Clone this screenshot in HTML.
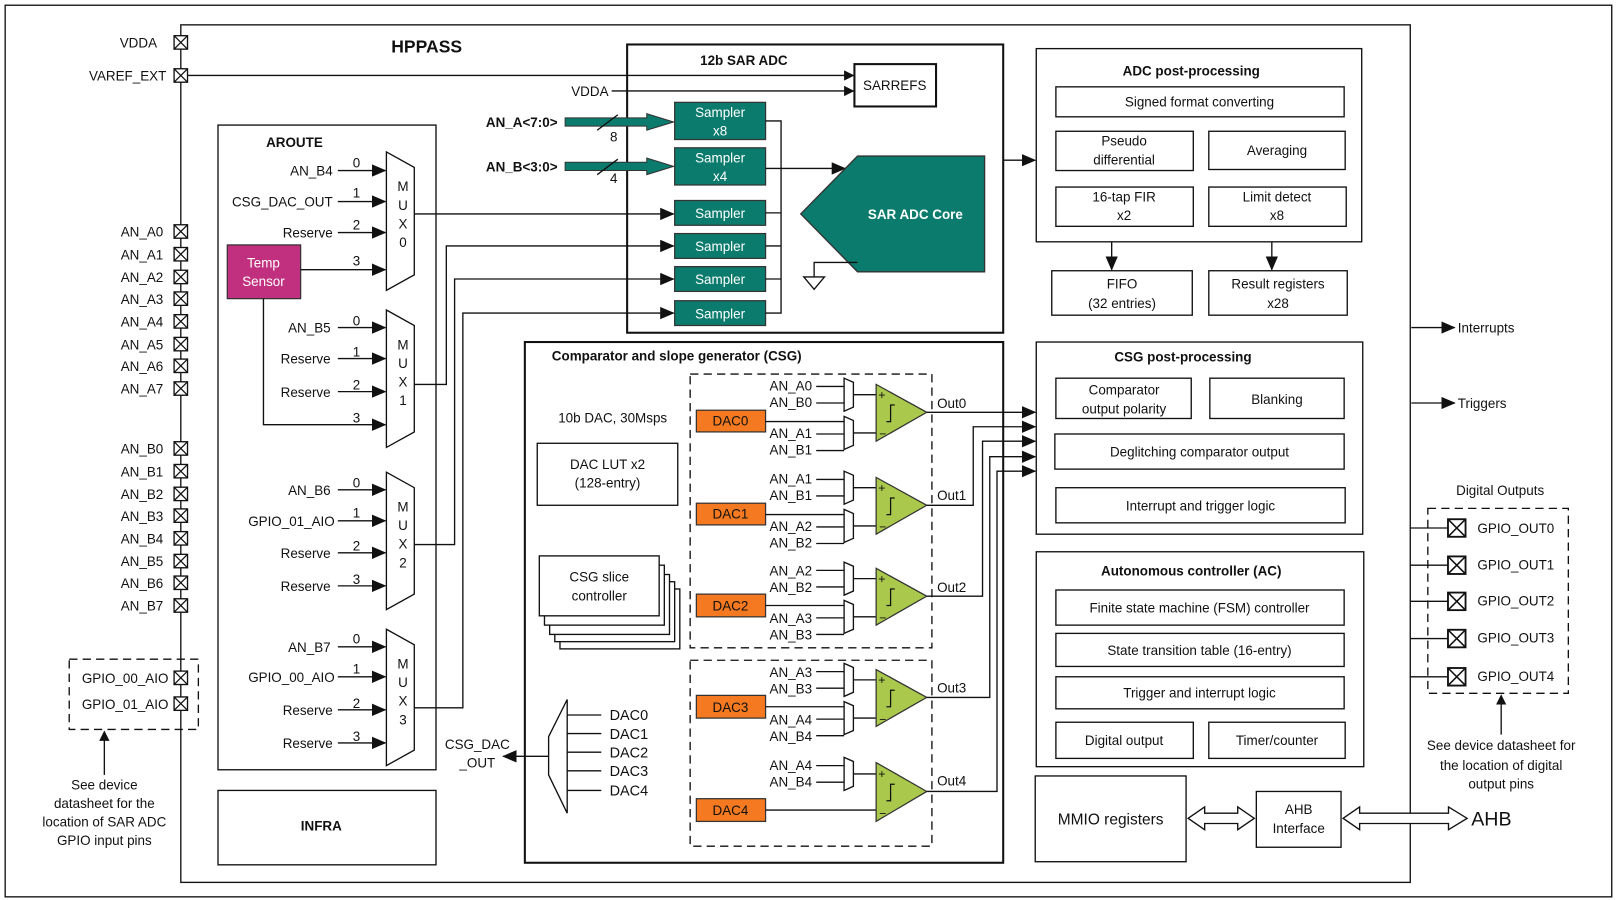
<!DOCTYPE html>
<html><head><meta charset="utf-8"><style>
html,body{margin:0;padding:0;background:#fff;}
svg{display:block}
text{font-family:"Liberation Sans",sans-serif;font-size:13px;fill:#111}
.b{font-weight:bold}
.w{fill:#fff}
.ln{stroke:#111;stroke-width:1.3;fill:none}
.bx{stroke:#111;stroke-width:1.3;fill:#fff}
.bx2{stroke:#111;stroke-width:2;fill:none}
.ds{stroke:#111;stroke-width:1.3;fill:none;stroke-dasharray:8,5}
.tl{fill:#0b7b6d;stroke:#333;stroke-width:1.2}
.or{fill:#f47920;stroke:#333;stroke-width:1.2}
.gr{fill:#a9c84c;stroke:#333;stroke-width:1.2}
</style></head><body>
<svg width="1620" height="900" viewBox="0 0 1568 871" xmlns="http://www.w3.org/2000/svg">
<defs>
<marker id="a" markerWidth="10" markerHeight="10" refX="9" refY="5" orient="auto" markerUnits="userSpaceOnUse"><path d="M0,0L10,5L0,10Z" fill="#111"/></marker>
<marker id="a2" markerWidth="14" markerHeight="12" refX="13" refY="6" orient="auto" markerUnits="userSpaceOnUse"><path d="M0,0L14,6L0,12Z" fill="#111"/></marker>
<g id="pin"><rect x="-6.5" y="-6.5" width="13" height="13" fill="#fff" stroke="#111" stroke-width="1.3"/><path d="M-6.5,-6.5L6.5,6.5M6.5,-6.5L-6.5,6.5" stroke="#111" stroke-width="1.2"/></g>
<g id="pinb"><rect x="-8.5" y="-8.5" width="17" height="17" fill="#fff" stroke="#111" stroke-width="1.8"/><path d="M-8.5,-8.5L8.5,8.5M8.5,-8.5L-8.5,8.5" stroke="#111" stroke-width="1.5"/></g>
<g id="stp"><path d="M-4,8L0,8L0,-8L4,-8" stroke="#111" stroke-width="1.2" fill="none"/></g>
</defs>
<rect x="5" y="5" width="1555" height="863" fill="none" stroke="#111" stroke-width="1.3"/>
<rect x="175" y="24" width="1190" height="830" class="bx"/>
<text x="413" y="51" class="b" text-anchor="middle" style="font-size:17px">HPPASS</text>

<!-- left pins -->
<text x="152" y="46" text-anchor="end">VDDA</text><use href="#pin" x="175" y="41"/>
<text x="161" y="78" text-anchor="end">VAREF_EXT</text>
<line x1="182" y1="73" x2="826" y2="73" class="ln" marker-end="url(#a)"/>
<use href="#pin" x="175" y="73"/>
<text x="158" y="229" text-anchor="end">AN_A0</text><use href="#pin" x="175" y="224"/>
<text x="158" y="251" text-anchor="end">AN_A1</text><use href="#pin" x="175" y="246"/>
<text x="158" y="273" text-anchor="end">AN_A2</text><use href="#pin" x="175" y="268"/>
<text x="158" y="294" text-anchor="end">AN_A3</text><use href="#pin" x="175" y="289"/>
<text x="158" y="316" text-anchor="end">AN_A4</text><use href="#pin" x="175" y="311"/>
<text x="158" y="338" text-anchor="end">AN_A5</text><use href="#pin" x="175" y="333"/>
<text x="158" y="359" text-anchor="end">AN_A6</text><use href="#pin" x="175" y="354"/>
<text x="158" y="381" text-anchor="end">AN_A7</text><use href="#pin" x="175" y="376"/>
<text x="158" y="439" text-anchor="end">AN_B0</text><use href="#pin" x="175" y="434"/>
<text x="158" y="461" text-anchor="end">AN_B1</text><use href="#pin" x="175" y="456"/>
<text x="158" y="483" text-anchor="end">AN_B2</text><use href="#pin" x="175" y="478"/>
<text x="158" y="504" text-anchor="end">AN_B3</text><use href="#pin" x="175" y="499"/>
<text x="158" y="526" text-anchor="end">AN_B4</text><use href="#pin" x="175" y="521"/>
<text x="158" y="548" text-anchor="end">AN_B5</text><use href="#pin" x="175" y="543"/>
<text x="158" y="569" text-anchor="end">AN_B6</text><use href="#pin" x="175" y="564"/>
<text x="158" y="591" text-anchor="end">AN_B7</text><use href="#pin" x="175" y="586"/>
<rect x="67" y="638" width="125" height="68" class="ds"/>
<text x="163" y="661" text-anchor="end">GPIO_00_AIO</text><use href="#pin" x="175" y="656"/>
<text x="163" y="686" text-anchor="end">GPIO_01_AIO</text><use href="#pin" x="175" y="681"/>
<line x1="101" y1="750" x2="101" y2="708" class="ln" marker-end="url(#a)"/>
<text x="101" y="764" text-anchor="middle">See device</text>
<text x="101" y="782" text-anchor="middle">datasheet for the</text>
<text x="101" y="800" text-anchor="middle">location of SAR ADC</text>
<text x="101" y="818" text-anchor="middle">GPIO input pins</text>

<!-- AROUTE -->
<rect x="211" y="121" width="211" height="624" class="bx"/>
<text x="285" y="142" class="b" text-anchor="middle">AROUTE</text>
<rect x="220" y="237" width="71" height="52" fill="#c1307f" stroke="#333" stroke-width="1.2"/>
<text x="255" y="259" class="w" text-anchor="middle">Temp</text>
<text x="255" y="277" class="w" text-anchor="middle">Sensor</text>
<!-- MUX0 -->
<path d="M374,147L401,162L401,266L374,281Z" class="bx"/>
<text x="390" y="185" text-anchor="middle">M</text><text x="390" y="203" text-anchor="middle">U</text><text x="390" y="221" text-anchor="middle">X</text><text x="390" y="239" text-anchor="middle">0</text>
<text x="322" y="170" text-anchor="end">AN_B4</text><line x1="327" y1="165" x2="373" y2="165" class="ln" marker-end="url(#a2)"/><text x="345" y="162" text-anchor="middle">0</text>
<text x="322" y="200" text-anchor="end">CSG_DAC_OUT</text><line x1="327" y1="195" x2="373" y2="195" class="ln" marker-end="url(#a2)"/><text x="345" y="191" text-anchor="middle">1</text>
<text x="322" y="230" text-anchor="end">Reserve</text><line x1="327" y1="225" x2="373" y2="225" class="ln" marker-end="url(#a2)"/><text x="345" y="222" text-anchor="middle">2</text>
<line x1="291" y1="261" x2="373" y2="261" class="ln" marker-end="url(#a2)"/><text x="345" y="257" text-anchor="middle">3</text>
<!-- MUX1 -->
<path d="M374,300L401,315L401,418L374,433Z" class="bx"/>
<text x="390" y="338" text-anchor="middle">M</text><text x="390" y="356" text-anchor="middle">U</text><text x="390" y="374" text-anchor="middle">X</text><text x="390" y="392" text-anchor="middle">1</text>
<text x="320" y="322" text-anchor="end">AN_B5</text><line x1="327" y1="317" x2="373" y2="317" class="ln" marker-end="url(#a2)"/><text x="345" y="315" text-anchor="middle">0</text>
<text x="320" y="352" text-anchor="end">Reserve</text><line x1="327" y1="347" x2="373" y2="347" class="ln" marker-end="url(#a2)"/><text x="345" y="345" text-anchor="middle">1</text>
<text x="320" y="384" text-anchor="end">Reserve</text><line x1="327" y1="379" x2="373" y2="379" class="ln" marker-end="url(#a2)"/><text x="345" y="377" text-anchor="middle">2</text>
<path d="M255,289L255,411L373,411" class="ln" marker-end="url(#a2)"/><text x="345" y="409" text-anchor="middle">3</text>
<!-- MUX2 -->
<path d="M374,457L401,472L401,575L374,590Z" class="bx"/>
<text x="390" y="495" text-anchor="middle">M</text><text x="390" y="513" text-anchor="middle">U</text><text x="390" y="531" text-anchor="middle">X</text><text x="390" y="549" text-anchor="middle">2</text>
<text x="320" y="479" text-anchor="end">AN_B6</text><line x1="327" y1="474" x2="373" y2="474" class="ln" marker-end="url(#a2)"/><text x="345" y="472" text-anchor="middle">0</text>
<text x="324" y="509" text-anchor="end">GPIO_01_AIO</text><line x1="327" y1="504" x2="373" y2="504" class="ln" marker-end="url(#a2)"/><text x="345" y="501" text-anchor="middle">1</text>
<text x="320" y="540" text-anchor="end">Reserve</text><line x1="327" y1="535" x2="373" y2="535" class="ln" marker-end="url(#a2)"/><text x="345" y="533" text-anchor="middle">2</text>
<text x="320" y="572" text-anchor="end">Reserve</text><line x1="327" y1="567" x2="373" y2="567" class="ln" marker-end="url(#a2)"/><text x="345" y="565" text-anchor="middle">3</text>
<!-- MUX3 -->
<path d="M374,609L401,624L401,726L374,741Z" class="bx"/>
<text x="390" y="647" text-anchor="middle">M</text><text x="390" y="665" text-anchor="middle">U</text><text x="390" y="683" text-anchor="middle">X</text><text x="390" y="701" text-anchor="middle">3</text>
<text x="320" y="631" text-anchor="end">AN_B7</text><line x1="327" y1="626" x2="373" y2="626" class="ln" marker-end="url(#a2)"/><text x="345" y="623" text-anchor="middle">0</text>
<text x="324" y="660" text-anchor="end">GPIO_00_AIO</text><line x1="327" y1="655" x2="373" y2="655" class="ln" marker-end="url(#a2)"/><text x="345" y="652" text-anchor="middle">1</text>
<text x="322" y="692" text-anchor="end">Reserve</text><line x1="327" y1="687" x2="373" y2="687" class="ln" marker-end="url(#a2)"/><text x="345" y="685" text-anchor="middle">2</text>
<text x="322" y="724" text-anchor="end">Reserve</text><line x1="327" y1="719" x2="373" y2="719" class="ln" marker-end="url(#a2)"/><text x="345" y="717" text-anchor="middle">3</text>

<rect x="211" y="765" width="211" height="72" class="bx"/>
<text x="311" y="804" class="b" text-anchor="middle">INFRA</text>

<!-- SAR ADC -->
<rect x="607" y="43" width="364" height="279" class="bx2"/>
<text x="720" y="63" class="b" text-anchor="middle">12b SAR ADC</text>
<rect x="827" y="62" width="79" height="41" class="bx2"/>
<text x="866" y="87" text-anchor="middle">SARREFS</text>
<text x="589" y="93" text-anchor="end">VDDA</text>
<line x1="592" y1="88" x2="826" y2="88" class="ln" marker-end="url(#a)"/>
<text x="505" y="123" class="b" text-anchor="middle">AN_A&lt;7:0&gt;</text>
<path d="M547,114L626,114L626,110L652,118L626,126L626,122L547,122Z" fill="#0b7b6d" stroke="#333" stroke-width="1"/>
<line x1="578" y1="126" x2="598" y2="111" class="ln"/><text x="594" y="137" text-anchor="middle">8</text>
<text x="505" y="166" class="b" text-anchor="middle">AN_B&lt;3:0&gt;</text>
<path d="M547,157L626,157L626,153L652,161L626,169L626,165L547,165Z" fill="#0b7b6d" stroke="#333" stroke-width="1"/>
<line x1="578" y1="169" x2="598" y2="154" class="ln"/><text x="594" y="177" text-anchor="middle">4</text>
<rect x="653" y="99" width="88" height="36" class="tl"/><text x="697" y="113" class="w" text-anchor="middle">Sampler</text><text x="697" y="131" class="w" text-anchor="middle">x8</text>
<rect x="653" y="143" width="88" height="36" class="tl"/><text x="697" y="157" class="w" text-anchor="middle">Sampler</text><text x="697" y="175" class="w" text-anchor="middle">x4</text>
<rect x="653" y="194" width="88" height="24" class="tl"/><text x="697" y="211" class="w" text-anchor="middle">Sampler</text>
<rect x="653" y="226" width="88" height="24" class="tl"/><text x="697" y="243" class="w" text-anchor="middle">Sampler</text>
<rect x="653" y="258" width="88" height="24" class="tl"/><text x="697" y="275" class="w" text-anchor="middle">Sampler</text>
<rect x="653" y="291" width="88" height="24" class="tl"/><text x="697" y="308" class="w" text-anchor="middle">Sampler</text>
<path d="M741,117L756,117L756,303L741,303M741,206L756,206M741,238L756,238M741,270L756,270" class="ln"/>
<line x1="741" y1="163" x2="818" y2="163" class="ln" marker-end="url(#a2)"/>
<path d="M775,207L830,151L953,151L953,263L830,263Z" fill="#0b7b6d" stroke="#333" stroke-width="1.3"/>
<text x="886" y="212" class="w b" text-anchor="middle">SAR ADC Core</text>
<path d="M830,254L788,254L788,268M778,268L798,268L788,280Z" class="ln"/>
<line x1="971" y1="155" x2="1002" y2="155" class="ln" marker-end="url(#a2)"/>
<!-- mux outputs to samplers -->
<line x1="401" y1="207" x2="652" y2="207" class="ln" marker-end="url(#a2)"/>
<path d="M401,372L432,372L432,238L652,238" class="ln" marker-end="url(#a2)"/>
<path d="M401,527L440,527L440,270L652,270" class="ln" marker-end="url(#a2)"/>
<path d="M401,685L448,685L448,303L652,303" class="ln" marker-end="url(#a2)"/>

<!-- ADC post-processing -->
<rect x="1003" y="47" width="315" height="187" class="bx"/>
<text x="1153" y="73" class="b" text-anchor="middle">ADC post-processing</text>
<rect x="1022" y="84" width="279" height="29" class="bx"/><text x="1161" y="103" text-anchor="middle">Signed format converting</text>
<rect x="1022" y="127" width="133" height="38" class="bx"/><text x="1088" y="141" text-anchor="middle">Pseudo</text><text x="1088" y="159" text-anchor="middle">differential</text>
<rect x="1170" y="127" width="132" height="37" class="bx"/><text x="1236" y="150" text-anchor="middle">Averaging</text>
<rect x="1022" y="181" width="133" height="38" class="bx"/><text x="1088" y="195" text-anchor="middle">16-tap FIR</text><text x="1088" y="213" text-anchor="middle">x2</text>
<rect x="1170" y="181" width="133" height="38" class="bx"/><text x="1236" y="195" text-anchor="middle">Limit detect</text><text x="1236" y="213" text-anchor="middle">x8</text>
<line x1="1076" y1="234" x2="1076" y2="261" class="ln" marker-end="url(#a2)"/>
<line x1="1231" y1="234" x2="1231" y2="261" class="ln" marker-end="url(#a2)"/>
<rect x="1018" y="262" width="136" height="43" class="bx"/><text x="1086" y="279" text-anchor="middle">FIFO</text><text x="1086" y="298" text-anchor="middle">(32 entries)</text>
<rect x="1170" y="262" width="134" height="43" class="bx"/><text x="1237" y="279" text-anchor="middle">Result registers</text><text x="1237" y="298" text-anchor="middle">x28</text>

<!-- CSG -->
<rect x="508" y="331" width="463" height="504" class="bx2"/>
<text x="655" y="349" class="b" text-anchor="middle">Comparator and slope generator (CSG)</text>
<text x="593" y="409" text-anchor="middle">10b DAC, 30Msps</text>
<rect x="520" y="429" width="136" height="60" class="bx"/><text x="588" y="454" text-anchor="middle">DAC LUT x2</text><text x="588" y="472" text-anchor="middle">(128-entry)</text>
<rect x="542" y="570" width="116" height="58" class="bx"/>
<rect x="537" y="563" width="116" height="58" class="bx"/>
<rect x="532" y="556" width="116" height="58" class="bx"/>
<rect x="527" y="547" width="116" height="58" class="bx"/>
<rect x="522" y="538" width="116" height="58" class="bx"/>
<text x="580" y="563" text-anchor="middle">CSG slice</text><text x="580" y="581" text-anchor="middle">controller</text>
<path d="M549,677L549,787L531,750L531,713Z" class="bx"/>
<path d="M549,692L582,692M549,710L582,710M549,728L582,728M549,746L582,746M549,765L582,765" class="ln"/>
<text x="590" y="697" style="font-size:14px">DAC0</text><text x="590" y="715" style="font-size:14px">DAC1</text><text x="590" y="733" style="font-size:14px">DAC2</text><text x="590" y="751" style="font-size:14px">DAC3</text><text x="590" y="770" style="font-size:14px">DAC4</text>
<line x1="531" y1="732" x2="487" y2="732" class="ln" marker-end="url(#a2)"/>
<text x="462" y="725" text-anchor="middle">CSG_DAC</text><text x="462" y="743" text-anchor="middle">_OUT</text>
<rect x="668" y="362" width="234" height="265" class="ds"/>
<rect x="668" y="639" width="234" height="180" class="ds"/>

<!-- Channel 0 yc=408 -->
<rect x="674" y="397" width="67" height="21" class="or"/><text x="707" y="412" text-anchor="middle">DAC0</text>
<text x="786" y="378" text-anchor="end">AN_A0</text><text x="786" y="394" text-anchor="end">AN_B0</text><text x="786" y="424" text-anchor="end">AN_A1</text><text x="786" y="440" text-anchor="end">AN_B1</text>
<path d="M790,374L817,374M790,390L817,390M741,408L817,408M790,420L817,420M790,436L817,436M826,382L848,382M826,419L848,419" class="ln"/>
<path d="M817,366L826,370L826,394L817,398Z" class="bx"/><path d="M817,403L826,407L826,431L817,435Z" class="bx"/>
<path d="M848,372L848,427L897,399Z" class="gr"/><text x="850" y="386" style="font-size:12px">+</text><text x="851" y="424" style="font-size:12px">−</text><use href="#stp" x="862" y="400"/>
<text x="907" y="395">Out0</text>
<!-- Channel 1 yc=498 -->
<rect x="674" y="487" width="67" height="21" class="or"/><text x="707" y="502" text-anchor="middle">DAC1</text>
<text x="786" y="468" text-anchor="end">AN_A1</text><text x="786" y="484" text-anchor="end">AN_B1</text><text x="786" y="514" text-anchor="end">AN_A2</text><text x="786" y="530" text-anchor="end">AN_B2</text>
<path d="M790,464L817,464M790,480L817,480M741,498L817,498M790,510L817,510M790,526L817,526M826,472L848,472M826,509L848,509" class="ln"/>
<path d="M817,456L826,460L826,484L817,488Z" class="bx"/><path d="M817,493L826,497L826,521L817,525Z" class="bx"/>
<path d="M848,462L848,517L897,489Z" class="gr"/><text x="850" y="476" style="font-size:12px">+</text><text x="851" y="514" style="font-size:12px">−</text><use href="#stp" x="862" y="490"/>
<text x="907" y="484">Out1</text>
<!-- Channel 2 yc=586 -->
<rect x="674" y="575" width="67" height="22" class="or"/><text x="707" y="591" text-anchor="middle">DAC2</text>
<text x="786" y="557" text-anchor="end">AN_A2</text><text x="786" y="573" text-anchor="end">AN_B2</text><text x="786" y="603" text-anchor="end">AN_A3</text><text x="786" y="619" text-anchor="end">AN_B3</text>
<path d="M790,552L817,552M790,568L817,568M741,586L817,586M790,598L817,598M790,614L817,614M826,560L848,560M826,597L848,597" class="ln"/>
<path d="M817,544L826,548L826,572L817,576Z" class="bx"/><path d="M817,581L826,585L826,609L817,613Z" class="bx"/>
<path d="M848,550L848,605L897,577Z" class="gr"/><text x="850" y="564" style="font-size:12px">+</text><text x="851" y="602" style="font-size:12px">−</text><use href="#stp" x="862" y="578"/>
<text x="907" y="573">Out2</text>
<!-- Channel 3 yc=684 -->
<rect x="674" y="673" width="67" height="22" class="or"/><text x="707" y="689" text-anchor="middle">DAC3</text>
<text x="786" y="655" text-anchor="end">AN_A3</text><text x="786" y="671" text-anchor="end">AN_B3</text><text x="786" y="701" text-anchor="end">AN_A4</text><text x="786" y="717" text-anchor="end">AN_B4</text>
<path d="M790,650L817,650M790,666L817,666M741,684L817,684M790,696L817,696M790,712L817,712M826,658L848,658M826,695L848,695" class="ln"/>
<path d="M817,642L826,646L826,670L817,674Z" class="bx"/><path d="M817,679L826,683L826,707L817,711Z" class="bx"/>
<path d="M848,648L848,703L897,675Z" class="gr"/><text x="850" y="662" style="font-size:12px">+</text><text x="851" y="700" style="font-size:12px">−</text><use href="#stp" x="862" y="676"/>
<text x="907" y="670">Out3</text>
<!-- Channel 4 -->
<rect x="674" y="773" width="67" height="22" class="or"/><text x="707" y="789" text-anchor="middle">DAC4</text>
<text x="786" y="745" text-anchor="end">AN_A4</text><text x="786" y="761" text-anchor="end">AN_B4</text>
<path d="M790,741L817,741M790,757L817,757M741,784L848,784M826,749L848,749" class="ln"/>
<path d="M817,733L826,737L826,761L817,765Z" class="bx"/>
<path d="M848,738L848,795L897,766Z" class="gr"/><text x="850" y="753" style="font-size:12px">+</text><text x="851" y="791" style="font-size:12px">−</text><use href="#stp" x="862" y="767"/>
<text x="907" y="760">Out4</text>
<!-- out routing -->
<line x1="897" y1="399" x2="1002" y2="399" class="ln" marker-end="url(#a2)"/>
<path d="M897,489L942,489L942,413L1002,413" class="ln" marker-end="url(#a2)"/>
<path d="M897,577L951,577L951,427L1002,427" class="ln" marker-end="url(#a2)"/>
<path d="M897,675L958,675L958,442L1002,442" class="ln" marker-end="url(#a2)"/>
<path d="M897,766L965,766L965,456L1002,456" class="ln" marker-end="url(#a2)"/>

<!-- CSG post-processing -->
<rect x="1003" y="331" width="316" height="186" class="bx"/>
<text x="1145" y="350" class="b" text-anchor="middle">CSG post-processing</text>
<rect x="1022" y="366" width="131" height="39" class="bx"/><text x="1088" y="382" text-anchor="middle">Comparator</text><text x="1088" y="400" text-anchor="middle">output polarity</text>
<rect x="1171" y="366" width="130" height="39" class="bx"/><text x="1236" y="391" text-anchor="middle">Blanking</text>
<rect x="1021" y="420" width="280" height="34" class="bx"/><text x="1161" y="442" text-anchor="middle">Deglitching comparator output</text>
<rect x="1022" y="472" width="280" height="34" class="bx"/><text x="1162" y="494" text-anchor="middle">Interrupt and trigger logic</text>

<!-- AC -->
<rect x="1003" y="534" width="317" height="208" class="bx"/>
<text x="1153" y="557" class="b" text-anchor="middle">Autonomous controller (AC)</text>
<rect x="1022" y="571" width="279" height="34" class="bx"/><text x="1161" y="593" text-anchor="middle">Finite state machine (FSM) controller</text>
<rect x="1022" y="613" width="279" height="32" class="bx"/><text x="1161" y="634" text-anchor="middle">State transition table (16-entry)</text>
<rect x="1022" y="655" width="279" height="31" class="bx"/><text x="1161" y="675" text-anchor="middle">Trigger and interrupt logic</text>
<rect x="1022" y="699" width="133" height="35" class="bx"/><text x="1088" y="721" text-anchor="middle">Digital output</text>
<rect x="1170" y="699" width="132" height="35" class="bx"/><text x="1236" y="721" text-anchor="middle">Timer/counter</text>

<rect x="1002" y="751" width="146" height="83" class="bx"/><text x="1075" y="798" text-anchor="middle" style="font-size:15px">MMIO registers</text>
<rect x="1216" y="766" width="82" height="54" class="bx"/><text x="1257" y="788" text-anchor="middle">AHB</text><text x="1257" y="806" text-anchor="middle">Interface</text>
<path d="M1150,792L1166,781L1166,787L1198,787L1198,781L1214,792L1198,803L1198,797L1166,797L1166,803Z" class="bx"/>
<path d="M1300,792L1316,781L1316,787L1402,787L1402,781L1420,792L1402,803L1402,797L1316,797L1316,803Z" class="bx"/>
<text x="1424" y="799" style="font-size:19px">AHB</text>

<!-- right side -->
<line x1="1366" y1="317" x2="1408" y2="317" class="ln" marker-end="url(#a2)"/><text x="1411" y="322">Interrupts</text>
<line x1="1366" y1="390" x2="1408" y2="390" class="ln" marker-end="url(#a2)"/><text x="1411" y="395">Triggers</text>
<text x="1452" y="479" text-anchor="middle">Digital Outputs</text>
<rect x="1382" y="492" width="136" height="179" class="ds"/>
<path d="M1365,511L1402,511M1365,547L1402,547M1365,582L1402,582M1365,618L1402,618M1365,655L1402,655" class="ln"/>
<use href="#pinb" x="1410" y="511"/><text x="1430" y="516">GPIO_OUT0</text>
<use href="#pinb" x="1410" y="547"/><text x="1430" y="551">GPIO_OUT1</text>
<use href="#pinb" x="1410" y="582"/><text x="1430" y="586">GPIO_OUT2</text>
<use href="#pinb" x="1410" y="618"/><text x="1430" y="622">GPIO_OUT3</text>
<use href="#pinb" x="1410" y="655"/><text x="1430" y="659">GPIO_OUT4</text>
<line x1="1453" y1="711" x2="1453" y2="673" class="ln" marker-end="url(#a)"/>
<text x="1453" y="726" text-anchor="middle">See device datasheet for</text>
<text x="1453" y="745" text-anchor="middle">the location of digital</text>
<text x="1453" y="763" text-anchor="middle">output pins</text>
</svg>
</body></html>
